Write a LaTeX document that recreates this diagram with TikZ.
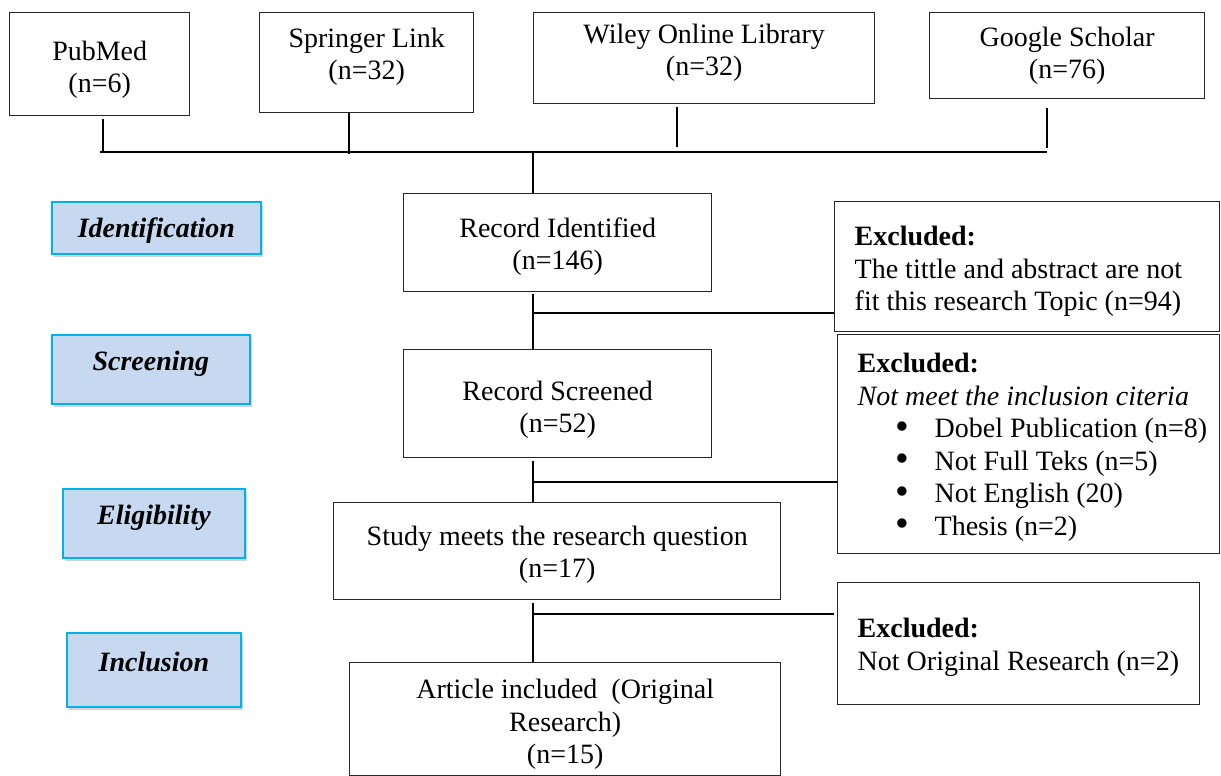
\documentclass[tikz,border=0pt]{standalone}
\usepackage{fontspec}
\setmainfont{Liberation Serif}
\usetikzlibrary{shadows,calc}
\definecolor{lblfill}{HTML}{C6D9F1}
\definecolor{lbldraw}{HTML}{00B0F0}
\newcommand{\bulitem}[1]{\mbox{\hspace*{38pt}\makebox[39pt][l]{\raisebox{-1.5pt}[0pt][0pt]{\scalebox{1.4}{\textbullet}}}#1}}
\begin{document}
\begin{tikzpicture}[x=1pt,y=-1pt,
  every node/.style={font=\fontsize{28}{32.5}\selectfont},
  dims/.style n args={3}{minimum width=#1pt, text height=#2pt, text depth=#3pt},
  box/.style={draw=black!85, line width=1.4pt, inner sep=0pt, align=center, anchor=north west},
  exbox/.style={draw=black!85, line width=1.4pt, inner ysep=0pt, inner xsep=20pt, align=flush left, anchor=north west},
  lbl/.style={draw=lbldraw, fill=lblfill, line width=1.8pt, inner sep=0pt, align=center, anchor=north west,
    font=\fontsize{28}{32.5}\selectfont\bfseries\itshape,
    drop shadow={shadow xshift=2pt, shadow yshift=-3pt, opacity=0.35}},
  conn/.style={line width=1.4pt}
]
\useasboundingbox (0,0) rectangle (1221,776);
% source boxes
\node[box, dims={180}{80}{23}] (pub) at (9,12) {PubMed\\(n=6)};
\node[box, dims={214}{67}{33}] (spr) at (259,12) {Springer Link\\(n=32)};
\node[box, dims={341}{63}{28}] (wil) at (533,12) {Wiley Online Library\\(n=32)};
\node[box, dims={275}{66}{20}] (goo) at (929,12) {Google Scholar\\(n=76)};
% main flow
\node[box, dims={308}{76}{22}] (rid) at (403,193) {Record Identified\\(n=146)};
\node[box, dims={308}{83}{25}] (rsc) at (403,349) {Record Screened\\(n=52)};
\node[box, dims={447}{75}{22}] (stu) at (333,502) {Study meets the research question\\(n=17)};
\node[box, dims={431}{101}{12}] (art) at (349,662) {Article included\ \ (Original\\Research)\\(n=15)};
% stage labels
\node[lbl, dims={209}{36}{16}] (lid) at (51,201) {Identification};
\node[lbl, dims={198}{36}{33}] (lsc) at (51,334) {Screening};
\node[lbl, dims={182}{36}{33}] (lel) at (62,488) {Eligibility};
\node[lbl, dims={174}{39}{35}] (lin) at (66,632) {Inclusion};
% excluded boxes
\node[exbox, text width=345pt, text height=44pt, text depth=86pt] (ex1) at (834,201)
  {\textbf{Excluded:}\\The tittle and abstract are not\\fit this research Topic (n=94)};
\node[exbox, text width=342pt, text height=38pt, text depth=181pt] (ex2) at (837,334)
  {\textbf{Excluded:}\\\textit{Not meet the inclusion citeria}\\
   \bulitem{Dobel Publication (n=8)}\\
   \bulitem{Not Full Teks (n=5)}\\
   \bulitem{Not English (20)}\\
   \bulitem{Thesis (n=2)}};
\node[exbox, text width=322pt, text height=55pt, text depth=67pt] (ex3) at (837,582)
  {\textbf{Excluded:}\\\mbox{Not Original Research (n=2)}};
% connectors
\coordinate (jp) at (103,152);
\coordinate (js) at (349,154);
\coordinate (jw) at (677,147);
\coordinate (jg) at (1047,148);
\coordinate (bl) at (100,152);
\coordinate (br) at (1047,152);
\coordinate (jt) at (533,152);
\coordinate (j1) at (533,313);
\coordinate (j2) at (533,482);
\coordinate (j3) at (533,614);
\draw[conn] ($(jp |- pub.south)+(0,3)$) -- (jp);
\draw[conn] (js |- spr.south) -- (js);
\draw[conn] ($(jw |- wil.south)+(0,3)$) -- (jw);
\draw[conn] ($(jg |- goo.south)+(0,9)$) -- (jg);
\draw[conn] (bl) -- (br);
\draw[conn] (jt) -- (jt |- rid.north);
\draw[conn] ($(jt |- rid.south)+(0,2)$) -- (jt |- rsc.north);
\draw[conn] (j1) -- (j1 -| ex1.west);
\draw[conn] ($(jt |- rsc.south)+(0,3)$) -- (jt |- stu.north);
\draw[conn] (j2) -- (j2 -| ex2.west);
\draw[conn] ($(jt |- stu.south)+(0,3)$) -- (jt |- art.north);
\draw[conn] (j3) -- ($(j3 -| ex3.west)+(-3,0)$);
\end{tikzpicture}
\end{document}
